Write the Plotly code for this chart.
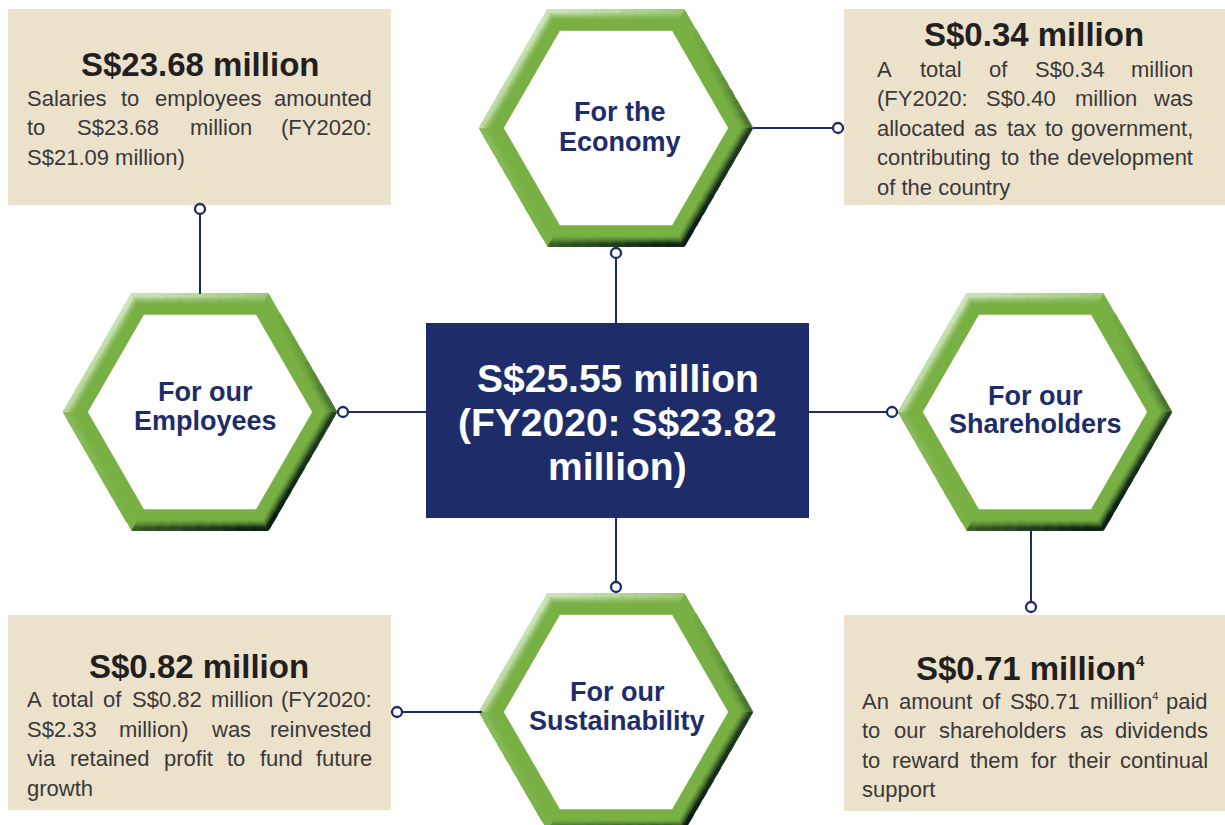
import math
import re
import plotly.graph_objects as go

W, H = 1225, 825

# ---------------- data ----------------
hex_labels = [["For the", "Economy"], ["For our", "Employees"],
              ["For our", "Shareholders"], ["For our", "Sustainability"]]
center_lines = ["S$25.55 million", "(FY2020: S$23.82", "million)"]
box_titles = ["S$23.68 million", "S$0.34 million", "S$0.82 million",
              "S$0.71 million<sup><span style='font-size:15px'>4</span></sup>"]
body_employees = ["Salaries to employees amounted", "to S$23.68 million (FY2020:", "S$21.09 million)"]
body_economy = ["A total of S$0.34 million", "(FY2020: S$0.40 million was",
                "allocated as tax to government,", "contributing to the development", "of the country"]
body_sustain = ["A total of S$0.82 million (FY2020:", "S$2.33 million) was reinvested",
                "via retained profit to fund future", "growth"]
body_share = ["An amount of S$0.71 million<sup><span style='font-size:11px'>4</span></sup> paid",
              "to our shareholders as dividends",
              "to reward them for their continual", "support"]

# ---------------- layout / style ----------------
NAVY = "#1e2d69"
GREEN = (120, 176, 67)
LIGHT = (206, 228, 188)
DARK = (10, 30, 22)
BOX = "#ece2cc"
TITLE_C = "#231f20"
BODY_C = "#3a3838"
FONT = "Liberation Sans, Arial, sans-serif"

hex_centers = [(616, 128), (200, 412), (1035, 412), (616, 712)]
hex_text_pos = [(620, 112, 141.5), (205, 391.5, 421), (1035, 396, 424), (617, 691.5, 721)]
R_OUT = 137.0
RING = 21.5

boxes = [(8, 9, 391, 205), (844, 9, 1225, 205), (8, 615, 391, 810), (844, 615, 1225, 811)]
title_pos = [(199.5, 64.5), (1034, 34), (199, 666), (1030, 668.5)]
body_pos = [(26, 373, 98.3), (876, 1194, 69), (26, 373, 699.7), (861, 1209, 701.3)]
bodies = [body_employees, body_economy, body_sustain, body_share]
LINE_SP = 29.5
BODY_SIZE = 22
TITLE_SIZE = 33
HEX_SIZE = 27
CENTER_SIZE = 39

center_rect = (426, 323, 809, 518)
center_text_y = [378, 422, 466.5]

conn_lines = [(616, 247, 616, 323), (753, 128, 838, 128), (200, 209, 200, 294),
              (343, 412, 426, 412), (809, 412, 892, 412), (1031, 530, 1031, 607),
              (616, 518, 616, 587), (397, 712, 482, 712)]
conn_dots = [(616, 253), (838, 128), (200, 209), (343, 412), (892, 412),
             (1031, 607), (616, 587), (397, 712)]

# Arial / Liberation Sans regular advance widths (per 1000 em)
AW = {' ': 278, '(': 333, ')': 333, ',': 278, '.': 278, ':': 278, '$': 556, '-': 333}
for c in '0123456789':
    AW[c] = 556
AW.update(dict(zip('ABCDEFGHIJKLMNOPQRSTUVWXYZ',
                   [667, 667, 722, 722, 667, 611, 778, 722, 278, 500, 667, 556, 833, 722, 778,
                    667, 778, 722, 667, 611, 722, 667, 944, 667, 667, 611])))
AW.update(dict(zip('abcdefghijklmnopqrstuvwxyz',
                   [556, 556, 500, 556, 556, 278, 556, 556, 222, 222, 500, 222, 833, 556, 556,
                    556, 556, 333, 500, 278, 556, 500, 722, 500, 500, 500])))


def text_width(s, size):
    total = 0.0
    for p in re.split(r'(<sup>.*?</sup>)', s):
        if p.startswith('<sup>'):
            inner = re.sub(r'<[^>]+>', '', p)
            total += sum(AW.get(c, 556) for c in inner) * 0.5
        else:
            total += sum(AW.get(c, 556) for c in p)
    return total * size / 1000.0


def hex_vertices(cx, cy, R):
    return [(cx + R * math.cos(math.radians(60 * k)), cy + R * math.sin(math.radians(60 * k)))
            for k in range(6)]


def hex_path(cx, cy, R):
    v = hex_vertices(cx, cy, R)
    return "M " + " L ".join(f"{x:.2f},{y:.2f}" for x, y in v) + " Z"


def mix(c1, c2, w):
    return tuple(round(a + (b - a) * w) for a, b in zip(c1, c2))


fig = go.Figure()
shapes = []
annotations = []

# text boxes
for (x0, y0, x1, y1) in boxes:
    shapes.append(dict(type="rect", xref="x", yref="y", x0=x0, y0=y0, x1=x1, y1=y1,
                       fillcolor=BOX, line=dict(width=0), layer="below"))

# hexagon green bodies
for cx, cy in hex_centers:
    shapes.append(dict(type="path", xref="x", yref="y", path=hex_path(cx, cy, R_OUT),
                       fillcolor="rgb(%d,%d,%d)" % GREEN, line=dict(width=0), layer="below"))

# bevel shading bands (edge k goes from vertex k to k+1; y down)
edge_shade = [
    ("dark", lambda t: 0.75 + 0.25 * t),        # right -> lower-right
    ("dark", lambda t: 1.0 - 0.45 * t),         # bottom
    ("light", lambda t: 0.22 * t),              # lower-left diag
    ("light", lambda t: 0.75 + 0.25 * t),       # upper-left diag
    ("light", lambda t: 1.0 - 0.55 * t),        # top
    ("dark", lambda t: 0.45 * t * t),           # upper-right diag
]
D = 11
NSEG = 10
LEVELS = 30
groups = {}
apo = R_OUT * math.sqrt(3) / 2
for cx, cy in hex_centers:
    for d in range(D):
        ad = apo - (d + 0.5)
        Rd = ad / (math.sqrt(3) / 2)
        v = hex_vertices(cx, cy, Rd)
        depth_w = min(1.0, 1.3 * (1 - (d + 0.5) / D)) ** 1.5
        for k, (kind, sfun) in enumerate(edge_shade):
            p, q = v[k], v[(k + 1) % 6]
            for j in range(NSEG):
                t0, t1 = j / NSEG, (j + 1) / NSEG
                w = sfun((t0 + t1) / 2) * depth_w
                lvl = int(round(w * LEVELS))
                if lvl <= 0:
                    continue
                e0 = t0 - (0.03 if j > 0 else 0)
                e1 = t1 + (0.03 if j < NSEG - 1 else 0)
                xa, ya = p[0] + (q[0] - p[0]) * e0, p[1] + (q[1] - p[1]) * e0
                xb, yb = p[0] + (q[0] - p[0]) * e1, p[1] + (q[1] - p[1]) * e1
                g = groups.setdefault((kind, lvl), ([], []))
                g[0].extend([xa, xb, None])
                g[1].extend([ya, yb, None])

for (kind, lvl), (xs, ys) in sorted(groups.items(), key=lambda kv: kv[0][1]):
    col = mix(GREEN, DARK if kind == "dark" else LIGHT, lvl / LEVELS)
    fig.add_trace(go.Scatter(x=xs, y=ys, mode="lines", hoverinfo="skip", showlegend=False,
                             line=dict(color="rgb(%d,%d,%d)" % col, width=1.6)))

# inner white hexagons
for cx, cy in hex_centers:
    shapes.append(dict(type="path", xref="x", yref="y",
                       path=hex_path(cx, cy, R_OUT - RING / (math.sqrt(3) / 2)),
                       fillcolor="white", line=dict(width=0), layer="above"))

# center rectangle
x0, y0, x1, y1 = center_rect
shapes.append(dict(type="rect", xref="x", yref="y", x0=x0, y0=y0, x1=x1, y1=y1,
                   fillcolor=NAVY, line=dict(width=0), layer="above"))

# connectors
for (xa, ya, xb, yb) in conn_lines:
    shapes.append(dict(type="line", xref="x", yref="y", x0=xa, y0=ya, x1=xb, y1=yb,
                       line=dict(color=NAVY, width=2), layer="above"))
for (x, y) in conn_dots:
    shapes.append(dict(type="circle", xref="x", yref="y", x0=x - 5, y0=y - 5, x1=x + 5, y1=y + 5,
                       fillcolor="white", line=dict(color=NAVY, width=2.3), layer="above"))


def ann(text, x, y, size, color, bold=False, xanchor="center"):
    annotations.append(dict(text=text, x=x, y=y, xref="x", yref="y", showarrow=False,
                            xanchor=xanchor, yanchor="middle", borderpad=0,
                            font=dict(family=FONT, size=size, color=color,
                                      weight="bold" if bold else "normal")))


# hexagon labels
for lab, (tx, y1_, y2_) in zip(hex_labels, hex_text_pos):
    ann(lab[0], tx, y1_, HEX_SIZE, NAVY, True)
    ann(lab[1], tx, y2_, HEX_SIZE, NAVY, True)

# center text
cxr = (center_rect[0] + center_rect[2]) / 2
for line, y in zip(center_lines, center_text_y):
    ann(line, cxr, y, CENTER_SIZE, "white", True)

# box titles
for t, (x, y) in zip(box_titles, title_pos):
    ann(t, x, y, TITLE_SIZE, TITLE_C, True)

# justified body text
for lines, (L, Rr, ystart) in zip(bodies, body_pos):
    for i, line in enumerate(lines):
        y = ystart + i * LINE_SP
        if i == len(lines) - 1:
            ann(line, L, y, BODY_SIZE, BODY_C, xanchor="left")
            continue
        # split into words, keeping tags together
        words = re.findall(r"(?:<[^>]*>|[^ <])+", line)
        widths = [text_width(w, BODY_SIZE) for w in words]
        gap = (Rr - L - sum(widths)) / (len(words) - 1)
        x = L
        for j, (w, wd) in enumerate(zip(words, widths)):
            if j == len(words) - 1:
                ann(w, Rr, y, BODY_SIZE, BODY_C, xanchor="right")
            else:
                ann(w, x, y, BODY_SIZE, BODY_C, xanchor="left")
            x += wd + gap

fig.update_layout(
    width=W, height=H, autosize=False,
    margin=dict(l=0, r=0, t=0, b=0, pad=0),
    paper_bgcolor="white", plot_bgcolor="white",
    xaxis=dict(range=[0, W], visible=False, fixedrange=True),
    yaxis=dict(range=[H, 0], visible=False, fixedrange=True),
    shapes=shapes, annotations=annotations, showlegend=False,
)

fig.write_html("out.html", config={"displayModeBar": False},
               post_script="document.body.style.margin='0';document.body.style.overflow='hidden';")
